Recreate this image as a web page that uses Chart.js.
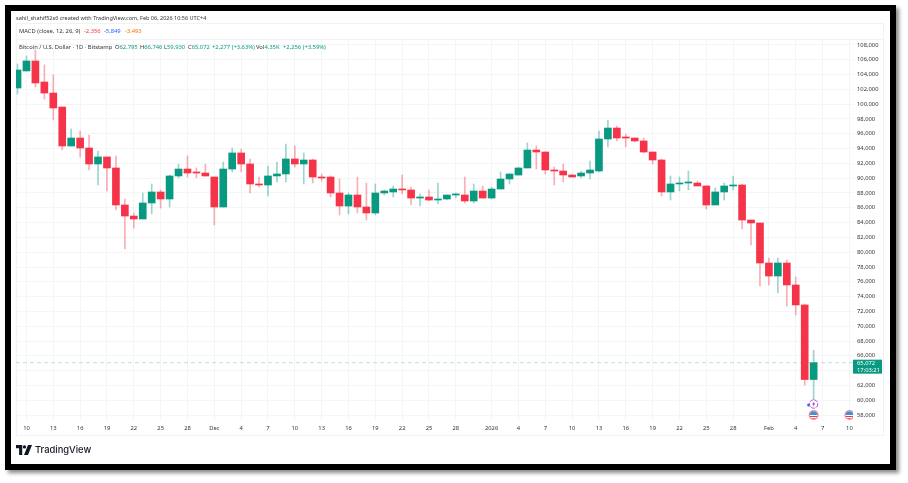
<!DOCTYPE html>
<html>
<head>
<meta charset="utf-8">
<title>BTCUSD</title>
<script src="https://cdn.jsdelivr.net/npm/chart.js@4"></script>
<style>
html, body { margin: 0; padding: 0; background: #fff; }
body { width: 908px; height: 483px; position: relative; overflow: hidden; font-family: "Noto Sans", sans-serif; }
#frame { position: absolute; left: 5px; top: 5px; width: 879px; height: 453px; border: 6px solid #000; background: #fff; box-shadow: 3px 3px 4px #8a8a8a; }
#pane { position: absolute; left: 16px; top: 23px; width: 868px; height: 413px; border: 1px solid #f1f2f4; box-sizing: border-box; }
#sep { position: absolute; left: 16px; top: 39px; width: 868px; height: 1px; background: #f1f2f4; }
canvas { position: absolute; left: 0; top: 0; filter: blur(.3px); }
.txt { position: absolute; white-space: nowrap; font-size: 5.8px; line-height: 8px; color: #333; filter: blur(.2px); }
.up { color: #089981; } .red { color: #f23645; } .blue { color: #2962ff; } .orange { color: #ff6d00; }
#logo { position: absolute; left: 16px; top: 445px; }
#brand { position: absolute; left: 35px; top: 442px; font-family: Inter, sans-serif; font-size: 9.4px; line-height: 16px; font-weight: 500; color: #131722; }
</style>
</head>
<body>
<div id="frame"></div>
<div id="pane"></div>
<div id="sep"></div>
<canvas id="myChart" width="908" height="483"></canvas>
<div class="txt" style="left:16px;top:14px;font-size:5.5px">sahil_shahif52s6 created with TradingView.com, Feb 06, 2026 10:56 UTC+4</div>
<div class="txt" style="left:19px;top:27px">MACD (close, 12, 26, 9)</div>
<div class="txt red" style="left:84px;top:27px">-2,356</div>
<div class="txt blue" style="left:104px;top:27px">-5,849</div>
<div class="txt orange" style="left:125px;top:27px">-3,493</div>
<div class="txt" style="left:19px;top:43px">Bitcoin / U.S. Dollar · 1D · Bitstamp</div>
<div class="txt" style="left:115px;top:43px">O<span class="up">62,795</span></div>
<div class="txt" style="left:140px;top:43px">H<span class="up">66,746</span></div>
<div class="txt" style="left:164px;top:43px">L<span class="up">59,930</span></div>
<div class="txt" style="left:188px;top:43px">C<span class="up">65,072</span></div>
<div class="txt up" style="left:212px;top:43px">+2,277 (+3.63%)</div>
<div class="txt" style="left:256px;top:43px">Vol<span class="up">4.35K</span></div>
<div class="txt up" style="left:283px;top:43px">+2,256 (+3.59%)</div>
<svg id="logo" width="16" height="10" viewBox="0 0 36 22"><path d="M0 0h14v22H7V7H0z" fill="#131722"/><circle cx="19" cy="4" r="3.8" fill="#131722"/><path d="M27 0h9l-9 22h-9z" fill="#131722"/></svg>
<div id="brand">TradingView</div>
<script>
const opens  = [102190,104490,105840,103000,101510,99620,94350,95430,94080,91920,92870,91380,86380,84890,84490,86650,88140,87190,90300,91240,90840,90700,90160,86110,91240,93410,91920,89220,89080,90300,90570,92600,91920,92460,90160,90160,88000,86240,87730,86110,85300,88000,88140,88540,88410,87320,87460,87050,87190,87730,87730,86920,88270,87320,88540,89890,90430,91380,93810,93540,91110,90970,90430,90300,90700,90970,95300,96780,95570,95430,95030,93540,92460,88140,89220,89350,89350,88950,86380,88140,88950,89080,84350,83950,78540,76780,78540,75570,72870,62795];
const highs  = [105430,106510,107320,105300,103950,99620,96650,96380,95840,93680,92870,93000,87190,85300,88000,89220,88410,90430,91920,93000,91380,91920,90160,92190,94080,93950,92600,90160,91650,92190,94620,94350,93410,92600,90570,90300,89890,88000,90160,89350,89220,88410,88950,90430,88810,87870,88410,89350,87730,88000,90160,89220,88950,88810,90840,90570,91510,94760,94350,93540,91510,91920,90570,90970,92320,96380,97870,97050,95970,95430,95430,93540,92600,90300,90160,90970,89620,88950,88680,89350,90300,89220,84350,83950,79220,79220,78950,76650,73000,66746];
const lows   = [101380,104490,102320,100700,97870,93810,94350,92870,91110,89080,88270,85700,80430,83270,84490,85160,85970,86110,90030,90160,90030,90300,83680,86110,90840,90840,88000,88810,87600,89490,89490,91510,89220,89350,89620,87460,85030,85160,85300,84350,85030,87730,87460,87870,86380,86240,86920,86510,87050,87320,86650,86650,87320,87190,88540,89220,90430,91380,91240,90570,89080,89490,90160,90030,89890,90840,94220,95030,94220,94890,93410,91920,87600,87050,88270,88410,88950,85840,86380,87050,88410,83140,80970,75430,75570,74490,72730,71510,62050,59930];
const closes = [104620,105840,102870,101510,99490,94350,95430,94080,91920,92870,91380,86380,84890,84490,86650,88140,87190,90300,91240,90700,90700,90300,86110,91240,93410,91920,89220,89080,90300,90570,92600,91920,92460,90160,90030,88000,86240,87730,86110,85300,88000,88270,88540,88410,87320,87460,87050,87190,87730,87870,86920,88270,87320,88540,89890,90570,91380,93810,93540,91110,90970,90430,90160,90700,91110,95300,96780,95430,95430,95030,93540,92460,88140,89220,89350,89490,88950,86380,88140,88950,89080,84350,83950,78540,76780,78540,75570,72870,62795,65072];

const yTickValues = [58000,60000,62000,64000,66000,68000,70000,72000,74000,76000,78000,80000,82000,84000,86000,88000,90000,92000,94000,96000,98000,100000,102000,104000,106000,108000];
const xTickDays   = [1,4,7,10,13,16,19,22,25,28,31,34,37,40,43,46,49,53,56,59,62,65,68,71,74,77,80,84,87,90,93];
const xTickLabels = ['10','13','16','19','22','25','28','Dec','4','7','10','13','16','19','22','25','28','2026','4','7','10','13','16','19','22','25','28','Feb','4','7','10'];
const lastClose = 65072;
const countdown = '17:03:21';
const eventDays = [89, 93];

const UP = '#089981', DOWN = '#f5344a';
const WICK_UP = 'rgba(8,153,129,.4)', WICK_DOWN = 'rgba(242,54,69,.4)';

const isUp = closes.map((c, i) => c >= opens[i]);

// price line, price tag and the little event icons
const extras = {
	id: 'extras',
	beforeDatasetsDraw(chart) {
		const { ctx, chartArea, scales } = chart;
		const y = scales.y.getPixelForValue(lastClose);
		ctx.save();
		ctx.strokeStyle = 'rgba(8,153,129,.28)';
		ctx.lineWidth = 1;
		ctx.setLineDash([4, 3]);
		ctx.beginPath();
		ctx.moveTo(chartArea.left, y);
		ctx.lineTo(chartArea.right, y);
		ctx.stroke();
		ctx.restore();
	},
	afterDraw(chart) {
		const { ctx, chartArea, scales } = chart;
		const y = scales.y.getPixelForValue(lastClose);

		ctx.save();
		ctx.fillStyle = UP;
		ctx.fillRect(chartArea.right, y - 3, 29, 14);
		ctx.fillStyle = '#fff';
		ctx.font = '5.8px "Noto Sans"';
		ctx.textBaseline = 'middle';
		ctx.fillText('65,072', chartArea.right + 4, y + 0.5);
		ctx.fillText(countdown, chartArea.right + 4, y + 7.5);
		ctx.restore();

		ctx.save();
		ctx.beginPath();
		ctx.rect(chartArea.left, chartArea.top, chartArea.right - chartArea.left, chartArea.bottom - chartArea.top);
		ctx.clip();
		const boltX = scales.x.getPixelForValue(eventDays[0]);
		ctx.fillStyle = '#2962ff';
		ctx.beginPath(); ctx.arc(boltX - 5, 405, 1.5, 0, 7); ctx.fill();
		ctx.fillStyle = '#fff';
		ctx.strokeStyle = '#a73fd6';
		ctx.lineWidth = 0.9;
		ctx.setLineDash([4, 1]);
		ctx.beginPath(); ctx.arc(boltX, 404, 4.2, 0, 7); ctx.fill(); ctx.stroke();
		ctx.setLineDash([]);
		ctx.fillStyle = '#a020c0';
		ctx.beginPath();
		ctx.moveTo(boltX + 1, 401); ctx.lineTo(boltX - 1.6, 404.6); ctx.lineTo(boltX, 404.4);
		ctx.lineTo(boltX - 1, 407); ctx.lineTo(boltX + 1.6, 403.4); ctx.lineTo(boltX, 403.6);
		ctx.closePath(); ctx.fill();
		eventDays.forEach(d => {
			const fx = scales.x.getPixelForValue(d);
			ctx.save();
			ctx.beginPath(); ctx.arc(fx, 415, 5, 0, 7);
			ctx.fillStyle = '#f58a94'; ctx.fill();
			ctx.beginPath(); ctx.arc(fx, 415, 3.8, 0, 7); ctx.clip();
			ctx.fillStyle = '#fff'; ctx.fillRect(fx - 4, 411, 8, 8);
			ctx.fillStyle = '#e8394a'; ctx.fillRect(fx - 4, 416, 8, 1); ctx.fillRect(fx - 4, 418, 8, 1);
			ctx.fillStyle = '#3f8fe0'; ctx.fillRect(fx - 4, 411, 8, 4);
			ctx.restore();
		});
		ctx.restore();
	}
};

const wicks  = highs.map((h, i) => ({ x: i, y: [lows[i], h] }));
const bodies = opens.map((o, i) => ({ x: i, y: [o, closes[i]] }));

const myChart = new Chart('myChart', {
	type: 'bar',
	data: {
		datasets: [
			{
				data: bodies,
				backgroundColor: isUp.map(u => u ? UP : DOWN),
				barThickness: 7,
				minBarLength: 1,
				grouped: false,
				order: 1
			},
			{
				data: wicks,
				backgroundColor: isUp.map(u => u ? WICK_UP : WICK_DOWN),
				barThickness: 1,
				grouped: false,
				order: 2
			}
		]
	},
	plugins: [extras],
	options: {
		responsive: false,
		animation: false,
		devicePixelRatio: 1,
		layout: { padding: { left: 16, top: 39, right: 24, bottom: 47 } },
		plugins: { legend: { display: false }, tooltip: { enabled: false } },
		scales: {
			x: {
				type: 'linear',
				offset: false,
				min: -0.17,
				max: 93.4,
				border: { display: false },
				grid: { color: '#f4f5f7', offset: false, drawTicks: false },
				afterBuildTicks: s => { s.ticks = xTickDays.map(v => ({ value: v })); },
				afterFit: s => { s.height = 15; },
				ticks: {
					autoSkip: false,
					maxRotation: 0,
					padding: 4,
					color: '#333',
					font: { family: '"Noto Sans"', size: 5.8 },
					callback: v => xTickLabels[xTickDays.indexOf(v)]
				}
			},
			y: {
				position: 'right',
				min: 57190,
				max: 108810,
				border: { display: false },
				grid: { color: '#f4f5f7', drawTicks: false },
				afterBuildTicks: s => { s.ticks = yTickValues.map(v => ({ value: v })); },
				afterFit: s => { s.width = 31; },
				ticks: {
					padding: 4,
					crossAlign: 'near',
					color: '#333',
					font: { family: '"Noto Sans"', size: 5.8 },
					callback: v => v.toLocaleString('en-US')
				}
			}
		}
	}
});
</script>
</body>
</html>
